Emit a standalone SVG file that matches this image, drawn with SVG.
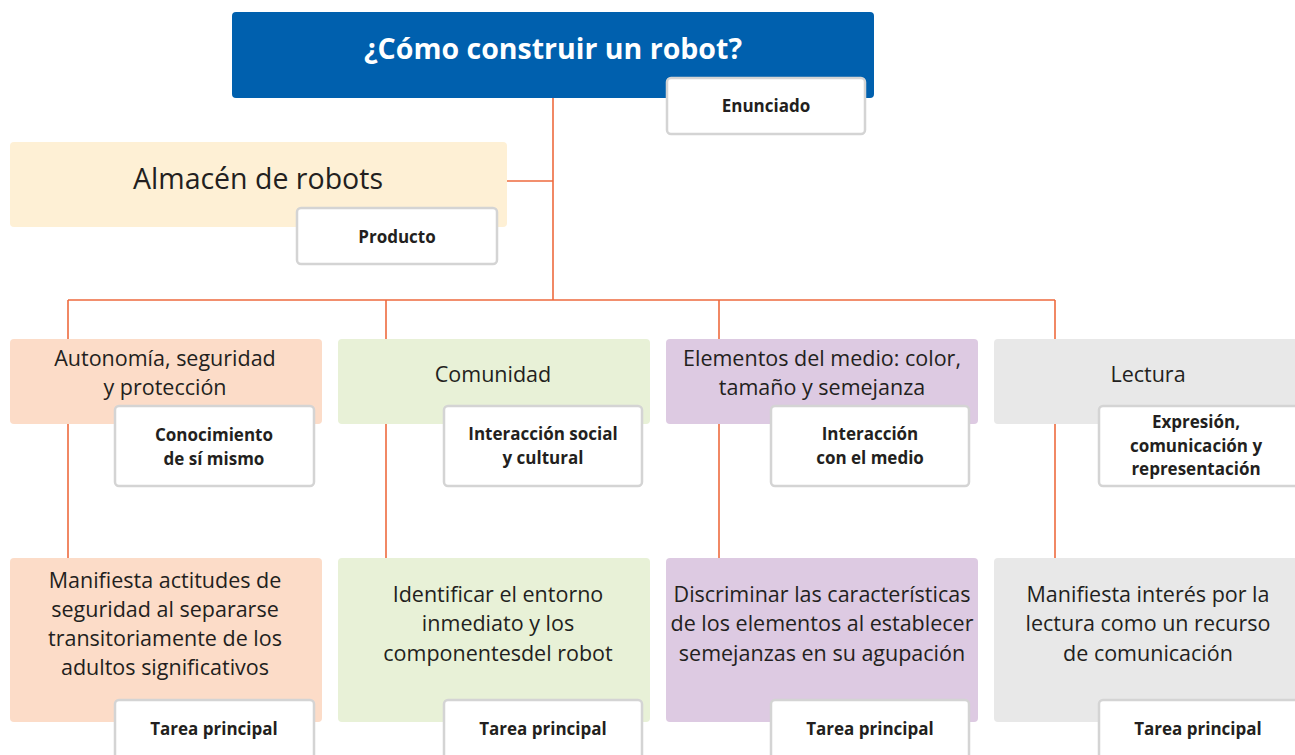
<svg xmlns="http://www.w3.org/2000/svg" width="1295" height="755" viewBox="0 0 1295 755">
<style>
.t{font-family:"Open Sans","Noto Sans",sans-serif;fill:#231f20;text-anchor:middle}
.big{font-size:21.5px}
.tag{fill:#fff;stroke:#d4d4d4;stroke-width:2.5}
.tl{font-family:"Open Sans","Noto Sans",sans-serif;font-weight:bold;font-size:17px;fill:#231f20;text-anchor:middle}
.c{stroke:#ee6b3f;stroke-width:1.6;fill:none}
</style>
<rect width="1295" height="755" fill="#fff"/>
<g id="connectors">
<path class="c" d="M553 97V300M507 181H553M68 300H1055M68 300V340M386 300V340M719 300V340M1055 300V340M68 424V558M386 424V558M719 424V558M1055 424V558"/>
</g>
<g id="title">
<rect x="232" y="12" width="642" height="86" rx="4" fill="#0060ae"/>
<text x="553" y="59" font-family="'Open Sans','Noto Sans',sans-serif" font-weight="bold" font-size="28" fill="#fff" text-anchor="middle" textLength="378" lengthAdjust="spacingAndGlyphs">¿Cómo construir un robot?</text>
</g>
<g id="enunciado">
<rect class="tag" x="667" y="78" width="198" height="56" rx="4"/>
<text class="tl" x="766" y="112">Enunciado</text>
</g>
<g id="almacen">
<rect x="10" y="142" width="497" height="85" rx="4" fill="#fef0d5"/>
<text class="t" x="258" y="189" font-size="28.5">Almacén de robots</text>
</g>
<g id="producto">
<rect class="tag" x="297" y="208" width="200" height="56" rx="4"/>
<text class="tl" x="397" y="243">Producto</text>
</g>
<g id="autonomia">
<rect x="10" y="339" width="312" height="85" rx="4" fill="#fcdcc8"/>
<text class="t big" x="165" y="366">Autonomía, seguridad</text>
<text class="t big" x="165" y="395">y protección</text>
</g>
<g id="conocimiento">
<rect class="tag" x="115" y="406" width="199" height="80" rx="4"/>
<text class="tl" x="214" y="441">Conocimiento</text>
<text class="tl" x="214" y="465">de sí mismo</text>
</g>
<g id="comunidad">
<rect x="338" y="339" width="312" height="85" rx="4" fill="#e8f1d7"/>
<text class="t big" x="493" y="382">Comunidad</text>
</g>
<g id="interaccion-social">
<rect class="tag" x="444" y="406" width="198" height="80" rx="4"/>
<text class="tl" x="543" y="440">Interacción social</text>
<text class="tl" x="543" y="464">y cultural</text>
</g>
<g id="elementos">
<rect x="666" y="339" width="312" height="85" rx="4" fill="#ddcae2"/>
<text class="t big" x="822" y="366">Elementos del medio: color,</text>
<text class="t big" x="822" y="395">tamaño y semejanza</text>
</g>
<g id="interaccion-medio">
<rect class="tag" x="771" y="406" width="198" height="80" rx="4"/>
<text class="tl" x="870" y="440">Interacción</text>
<text class="tl" x="870" y="464">con el medio</text>
</g>
<g id="lectura">
<rect x="994" y="339" width="312" height="85" rx="4" fill="#e8e8e8"/>
<text class="t big" x="1148" y="382">Lectura</text>
</g>
<g id="expresion">
<rect class="tag" x="1099" y="406" width="210" height="80" rx="4"/>
<text class="tl" x="1196" y="428">Expresión,</text>
<text class="tl" x="1196" y="452">comunicación y</text>
<text class="tl" x="1196" y="475">representación</text>
</g>
<g id="tarea1">
<rect x="10" y="558" width="312" height="164" rx="4" fill="#fcdcc8"/>
<text class="t big" x="165" y="588">Manifiesta actitudes de</text>
<text class="t big" x="165" y="617">seguridad al separarse</text>
<text class="t big" x="165" y="646">transitoriamente de los</text>
<text class="t big" x="165" y="675">adultos significativos</text>
</g>
<g id="tarea1-tag">
<rect class="tag" x="115" y="700" width="199" height="70" rx="4"/>
<text class="tl" x="214" y="735">Tarea principal</text>
</g>
<g id="tarea2">
<rect x="338" y="558" width="312" height="164" rx="4" fill="#e8f1d7"/>
<text class="t big" x="498" y="602">Identificar el entorno</text>
<text class="t big" x="498" y="631">inmediato y los</text>
<text class="t big" x="498" y="661">componentesdel robot</text>
</g>
<g id="tarea2-tag">
<rect class="tag" x="444" y="700" width="198" height="70" rx="4"/>
<text class="tl" x="543" y="735">Tarea principal</text>
</g>
<g id="tarea3">
<rect x="666" y="558" width="312" height="164" rx="4" fill="#ddcae2"/>
<text class="t big" x="822" y="602">Discriminar las características</text>
<text class="t big" x="822" y="631">de los elementos al establecer</text>
<text class="t big" x="822" y="661">semejanzas en su agupación</text>
</g>
<g id="tarea3-tag">
<rect class="tag" x="771" y="700" width="198" height="70" rx="4"/>
<text class="tl" x="870" y="735">Tarea principal</text>
</g>
<g id="tarea4">
<rect x="994" y="558" width="312" height="164" rx="4" fill="#e8e8e8"/>
<text class="t big" x="1148" y="602">Manifiesta interés por la</text>
<text class="t big" x="1148" y="631">lectura como un recurso</text>
<text class="t big" x="1148" y="661">de comunicación</text>
</g>
<g id="tarea4-tag">
<rect class="tag" x="1099" y="700" width="210" height="70" rx="4"/>
<text class="tl" x="1198" y="735">Tarea principal</text>
</g>
</svg>
